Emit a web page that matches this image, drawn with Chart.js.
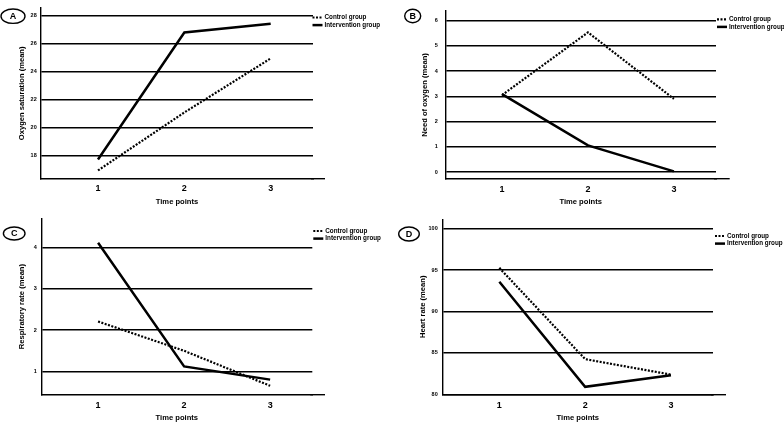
<!DOCTYPE html>
<html>
<head>
<meta charset="utf-8">
<script src="https://cdn.jsdelivr.net/npm/chart.js@4.4.1/dist/chart.umd.min.js"></script>
<style>
  html, body { margin: 0; padding: 0; background: #fff; }
  #wrap { position: relative; width: 784px; height: 422px; }
  .panel { position: absolute; width: 392px; height: 211px; }
</style>
</head>
<body>
<div id="wrap">
  <div class="panel" style="left:0;top:0"><canvas id="chart-a" width="392" height="211"></canvas></div>
  <div class="panel" style="left:392px;top:0"><canvas id="chart-b" width="392" height="211"></canvas></div>
  <div class="panel" style="left:0;top:211px"><canvas id="chart-c" width="392" height="211"></canvas></div>
  <div class="panel" style="left:392px;top:211px"><canvas id="chart-d" width="392" height="211"></canvas></div>
</div>
<script>
// shared x axis and series names
let time_points = [1, 2, 3];
let series_labels = ['Control group', 'Intervention group'];

// A - oxygen saturation
let oxygen_control = [16.97, 21.1, 24.95];
let oxygen_intervention = [17.75, 26.8, 27.42];
let oxygen_ticks = [18, 20, 22, 24, 26, 28];

// B - need of oxygen
let need_control = [3.05, 5.53, 2.9];
let need_intervention = [3.09, 1.06, 0.03];
let need_ticks = [0, 1, 2, 3, 4, 5, 6];

// C - respiratory rate
let resp_control = [2.21, 1.5, 0.65];
let resp_intervention = [4.12, 1.12, 0.8];
let resp_ticks = [1, 2, 3, 4];

// D - heart rate
let heart_control = [95.28, 84.25, 82.38];
let heart_intervention = [93.6, 80.9, 82.3];
let heart_ticks = [80, 85, 90, 95, 100];

const font_family = "'Liberation Sans', Arial, sans-serif";
const line_w = 1.4;

// axis run-on, circled letter and the little legend beside each panel
const panelDecor = {
    id: 'panelDecor',
    afterDraw(chart, args, o) {
        const ctx = chart.ctx;
        const area = chart.chartArea;
        ctx.save();
        ctx.strokeStyle = '#000';
        ctx.fillStyle = '#000';
        // same pixel alignment chart.js uses for the border
        let axisY = Math.round(chart.scales.x.top - line_w / 2) + line_w / 2;
        ctx.lineWidth = line_w;
        ctx.beginPath();
        ctx.moveTo(area.right - 2, axisY);
        ctx.lineTo(area.right + o.axisRun, axisY);
        ctx.stroke();

        ctx.lineWidth = 1.4;
        ctx.beginPath();
        ctx.ellipse(o.cx, o.cy, o.rx, o.ry, 0, 0, Math.PI * 2);
        ctx.stroke();
        ctx.font = 'bold 9px ' + font_family;
        ctx.textAlign = 'center';
        ctx.textBaseline = 'middle';
        ctx.fillText(o.letter, o.cx, o.cy + 0.5);

        ctx.font = 'bold 6.3px ' + font_family;
        ctx.textAlign = 'left';
        chart.data.datasets.forEach((ds, i) => {
            let x = area.right + o.legendGap;
            let y = o.legendY + i * 7.6;
            ctx.lineWidth = ds.borderWidth;
            ctx.setLineDash(ds.borderDash || []);
            ctx.beginPath();
            ctx.moveTo(x, y);
            ctx.lineTo(x + 10, y);
            ctx.stroke();
            ctx.setLineDash([]);
            ctx.fillText(ds.label, x + 12, y);
        });
        ctx.restore();
    }
};

function makeChart(id, p) {
    return new Chart(document.getElementById(id).getContext('2d'), {
        type: 'line',
        data: {
            datasets: [{
                label: series_labels[0],
                data: time_points.map((t, i) => ({x: t, y: p.control[i]})),
                borderColor: '#000',
                borderWidth: 2.2,
                borderDash: [2, 1.5],
                pointRadius: 0,
                tension: 0,
                fill: false
            }, {
                label: series_labels[1],
                data: time_points.map((t, i) => ({x: t, y: p.intervention[i]})),
                borderColor: '#000',
                borderWidth: 2.5,
                pointRadius: 0,
                tension: 0,
                fill: false
            }]
        },
        options: {
            responsive: false,
            animation: false,
            events: [],
            layout: {padding: {left: 0, top: p.top, right: 392 - p.right, bottom: 0}},
            plugins: {
                legend: {display: false},
                tooltip: {enabled: false},
                panelDecor: p.decor
            },
            scales: {
                x: {
                    type: 'linear',
                    min: 0.34,
                    max: 3.49,
                    afterBuildTicks: s => { s.ticks = time_points.map(v => ({value: v})); },
                    afterFit: s => { s.height = 211 - p.bottom; },
                    grid: {display: false, drawTicks: false},
                    border: {color: '#000', width: line_w},
                    ticks: {color: '#000', padding: p.xPad, font: {family: font_family, size: 9, weight: 'bold'}},
                    title: {
                        display: true, text: 'Time points', color: '#000',
                        font: {family: font_family, size: 7.6, weight: 'bold'},
                        padding: {top: 0, bottom: p.xTitlePad}
                    }
                },
                y: {
                    min: p.min,
                    max: p.max,
                    afterBuildTicks: s => { s.ticks = p.ticks.map(v => ({value: v})); },
                    afterFit: s => { s.width = p.left; },
                    grid: {color: '#000', lineWidth: line_w, drawTicks: false},
                    border: {color: '#000', width: line_w},
                    ticks: {color: '#000', padding: p.yPad, font: {family: font_family, size: 5.5, weight: 'bold'}},
                    title: {
                        display: true, text: p.yTitle, color: '#000',
                        font: {family: font_family, size: 7.6, weight: 'bold'},
                        padding: {top: p.yTitlePad, bottom: 0}
                    }
                }
            }
        },
        plugins: [panelDecor]
    });
}

let chart_a = makeChart('chart-a', {
    control: oxygen_control, intervention: oxygen_intervention, ticks: oxygen_ticks,
    min: 16.36, max: 28.57, yTitle: 'Oxygen saturation (mean)',
    left: 41, right: 313, top: 0, bottom: 179,
    xPad: 3.9, xTitlePad: 4.7, yPad: 4.3, yTitlePad: 17.1,
    decor: {axisRun: 12, letter: 'A', cx: 13, cy: 16.2, rx: 12, ry: 7.2, legendGap: -0.5, legendY: 17.5}
});

let chart_b = makeChart('chart-b', {
    control: need_control, intervention: need_intervention, ticks: need_ticks,
    min: -0.27, max: 6.38, yTitle: 'Need of oxygen (mean)',
    left: 53.3, right: 324, top: 0, bottom: 179,
    xPad: 4.9, xTitlePad: 4.7, yPad: 7.6, yTitlePad: 28.7,
    decor: {axisRun: 13.7, letter: 'B', cx: 20.7, cy: 16, rx: 8, ry: 6.7, legendGap: 1, legendY: 19.3}
});

let chart_c = makeChart('chart-c', {
    control: resp_control, intervention: resp_intervention, ticks: resp_ticks,
    min: 0.444, max: 4.7, yTitle: 'Respiratory rate (mean)',
    left: 41.3, right: 312.3, top: 5, bottom: 183.3,
    xPad: 5.6, xTitlePad: 0, yPad: 4.6, yTitlePad: 17.1,
    decor: {axisRun: 12.7, letter: 'C', cx: 14.2, cy: 22.5, rx: 10.8, ry: 6.5, legendGap: 1, legendY: 20}
});

let chart_d = makeChart('chart-d', {
    control: heart_control, intervention: heart_intervention, ticks: heart_ticks,
    min: 80, max: 101.15, yTitle: 'Heart rate (mean)',
    left: 50.7, right: 321, top: 5, bottom: 183.3,
    xPad: 5.6, xTitlePad: 0, yPad: 5, yTitlePad: 26.1,
    decor: {axisRun: 13, letter: 'D', cx: 17, cy: 23, rx: 10.3, ry: 7, legendGap: 2, legendY: 25}
});
</script>
</body>
</html>
